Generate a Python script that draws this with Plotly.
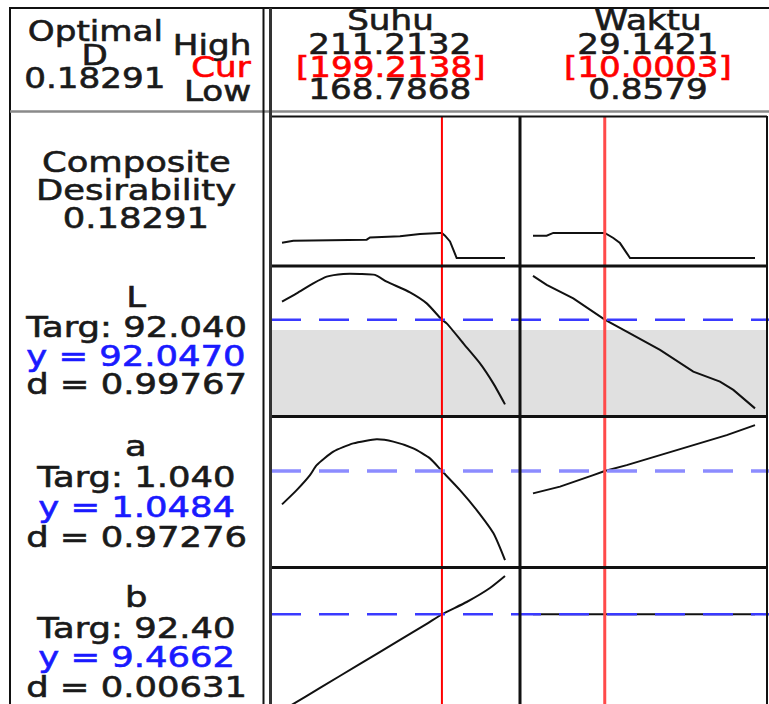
import plotly.graph_objects as go

W, H = 769, 704

# ---------------- data ----------------
factors = ["Suhu", "Waktu"]
suhu_high, suhu_cur, suhu_low = 211.2132, 199.2138, 168.7868
waktu_high, waktu_cur, waktu_low = 29.1421, 10.0003, 0.8579
suhu_labels = ["211.2132", "[199.2138]", "168.7868"]
waktu_labels = ["29.1421", "[10.0003]", "0.8579"]

optimal_D = "0.18291"

# Composite desirability
comp_suhu_x = [168.79, 170.94, 184.90, 185.53, 191.24, 195.04, 198.85, 199.2138, 199.80, 200.75, 201.38, 202.02, 211.2132]
comp_suhu_y = [0.112, 0.126, 0.134, 0.150, 0.158, 0.175, 0.182, 0.18291, 0.163, 0.121, 0.061, 0.0, 0.0]
comp_waktu_x = [0.8579, 2.60, 3.44, 10.0003, 11.09, 11.94, 12.80, 13.22, 29.1421]
comp_waktu_y = [0.163, 0.163, 0.18291, 0.18291, 0.146, 0.109, 0.036, 0.0, 0.0]

# Response L
L_suhu_x = [168.79, 171.58, 174.74, 177.29, 180.45, 183.63, 186.48, 188.71, 193.14, 196.32, 199.2138, 200.12, 203.28, 206.46, 208.99, 211.2132]
L_suhu_y = [92.77, 93.10, 93.50, 93.77, 93.88, 93.88, 93.84, 93.57, 93.14, 92.70, 92.047, 91.90, 91.10, 90.30, 89.50, 88.66]
L_waktu_x = [0.8579, 2.60, 5.99, 10.0003, 12.80, 17.04, 21.28, 24.68, 26.38, 29.1421]
L_waktu_y = [93.80, 93.44, 92.90, 92.047, 91.57, 90.84, 89.97, 89.57, 89.24, 88.50]
L_current = 92.047
L_shade_top = 91.64

# Response a
a_suhu_x = [168.79, 171.58, 174.11, 175.39, 178.55, 182.35, 186.80, 189.96, 193.77, 196.94, 199.2138, 202.65, 205.83, 209.02, 211.2132]
a_suhu_y = [0.915, 0.972, 1.032, 1.072, 1.126, 1.159, 1.175, 1.166, 1.139, 1.099, 1.0484, 0.972, 0.892, 0.799, 0.692]
a_waktu_x = [0.8579, 4.30, 8.54, 10.0003, 12.80, 17.04, 21.28, 25.54, 29.1421]
a_waktu_y = [0.959, 0.986, 1.032, 1.0484, 1.072, 1.112, 1.152, 1.192, 1.232]
a_current = 1.0484

# Response b
b_suhu_x = [168.79, 170.63, 176.02, 183.63, 191.24, 196.32, 199.2138, 203.92, 208.35, 211.2132]
b_suhu_y = [4.666, 4.936, 5.786, 6.986, 8.186, 8.986, 9.4662, 10.081, 10.781, 11.381]
b_waktu_x = [0.8579, 10.0003, 29.1421]
b_waktu_y = [9.4662, 9.4662, 9.4662]
b_current = 9.4662

left_blocks = [
    ["Composite", "Desirability", "0.18291"],
    ["L", "Targ: 92.040", "y = 92.0470", "d = 0.99767"],
    ["a", "Targ: 1.040", "y = 1.0484", "d = 0.97276"],
    ["b", "Targ: 92.40", "y = 9.4662", "d = 0.00631"],
]

# ---------------- layout helpers ----------------
def px(x):
    return x / W

def py(y):
    return 1 - y / H

FONT = "DejaVu Sans"
FS = 29
FS_HEAD = 28
TXT = "#1a1a1a"
TEXT_STRETCH = 1.22

fig = go.Figure()

line_style = dict(color="#111111", width=2)
# composite row -> y, L -> y2, a -> y3, b -> y4 ; Suhu -> x, Waktu -> x2
fig.add_trace(go.Scatter(x=comp_suhu_x, y=comp_suhu_y, xaxis="x", yaxis="y", mode="lines", line=line_style))
fig.add_trace(go.Scatter(x=comp_waktu_x, y=comp_waktu_y, xaxis="x2", yaxis="y", mode="lines", line=line_style))
fig.add_trace(go.Scatter(x=L_suhu_x, y=L_suhu_y, xaxis="x", yaxis="y2", mode="lines", line=dict(line_style, shape="spline", smoothing=0.6)))
fig.add_trace(go.Scatter(x=L_waktu_x, y=L_waktu_y, xaxis="x2", yaxis="y2", mode="lines", line=line_style))
fig.add_trace(go.Scatter(x=a_suhu_x, y=a_suhu_y, xaxis="x", yaxis="y3", mode="lines", line=dict(line_style, shape="spline", smoothing=0.6)))
fig.add_trace(go.Scatter(x=a_waktu_x, y=a_waktu_y, xaxis="x2", yaxis="y3", mode="lines", line=line_style))
fig.add_trace(go.Scatter(x=b_suhu_x, y=b_suhu_y, xaxis="x", yaxis="y4", mode="lines", line=dict(line_style, shape="spline", smoothing=0.6)))
fig.add_trace(go.Scatter(x=b_waktu_x, y=b_waktu_y, xaxis="x2", yaxis="y4", mode="lines", line=line_style))

def xr(lo, hi, pl, pr):
    s = hi - lo
    return [lo - pl * s, hi + pr * s]

hidden = dict(visible=False, fixedrange=True)
L_range = [88.235, 94.155]
fig.update_layout(
    width=W, height=H,
    margin=dict(l=0, r=0, t=0, b=0),
    paper_bgcolor="white", plot_bgcolor="white",
    showlegend=False,
    xaxis=dict(hidden, domain=[px(272), px(519)], range=xr(suhu_low, suhu_high, 0.0448, 0.0628), anchor="y"),
    xaxis2=dict(hidden, domain=[px(521), px(767)], range=xr(waktu_low, waktu_high, 0.054, 0.054), anchor="y"),
    yaxis=dict(hidden, domain=[py(265), py(116)], range=[-0.051, 1.036], anchor="x"),
    yaxis2=dict(hidden, domain=[py(415), py(267)], range=L_range, anchor="x"),
    yaxis3=dict(hidden, domain=[py(566), py(418)], range=[0.6684, 1.2604], anchor="x"),
    yaxis4=dict(hidden, domain=[0, py(569)], range=[4.981, 11.731], anchor="x"),
)

shapes = []
# gray shading in L row
shapes.append(dict(type="rect", xref="paper", yref="y2", x0=px(271), x1=px(767), y0=L_range[0], y1=L_shade_top,
                   fillcolor="#e0e0e0", line=dict(width=0), layer="below"))
# current-response dashed lines
for yr, val, col, wd in [("y2", L_current, "#3a3aff", 2.5), ("y3", a_current, "#8c8cff", 3.5), ("y4", b_current, "#3a3aff", 2.5)]:
    shapes.append(dict(type="line", xref="paper", yref=yr, x0=px(271), x1=px(769), y0=val, y1=val,
                       line=dict(color=col, width=wd, dash="30px,18px")))
# current factor settings (red)
shapes.append(dict(type="line", xref="x", yref="paper", x0=suhu_cur, x1=suhu_cur, y0=0, y1=py(116),
                   line=dict(color="#ff0000", width=2)))
shapes.append(dict(type="line", xref="x2", yref="paper", x0=waktu_cur, x1=waktu_cur, y0=0, y1=py(116),
                   line=dict(color="#ff4a4a", width=3)))

def hline(y, x0, x1, color="#111111", width=2):
    shapes.append(dict(type="line", xref="paper", yref="paper", x0=px(x0), x1=px(x1), y0=py(y), y1=py(y),
                       line=dict(color=color, width=width)))

def vline(x, y0, y1, color="#111111", width=2):
    shapes.append(dict(type="line", xref="paper", yref="paper", x0=px(x), x1=px(x), y0=py(y0), y1=py(y1),
                       line=dict(color=color, width=width)))

# frame
hline(8, 9, 769, width=2)
vline(10, 8, 704, width=2)
hline(111.5, 10, 769, color="#8a8a8a", width=2.5)
hline(116.5, 270, 767, width=2)
hline(266, 270, 767, width=3)
hline(416.5, 270, 767, width=3)
hline(567.5, 270, 767, width=3)
vline(263.5, 8, 704, width=2)
vline(270.5, 8, 704, color="#333333", width=3)
vline(520, 116, 704, width=3)
vline(767, 116, 704, width=2)
fig.update_layout(shapes=shapes)

ann = []
def text(t, x, y, color=TXT, align="center", size=FS):
    ann.append(dict(text=t, x=px(x), y=py(y), xref="paper", yref="paper", showarrow=False,
                    xanchor=align, yanchor="middle", align=align,
                    font=dict(family=FONT, size=size, color=color)))

# header
text("Optimal", 95, 32, size=FS_HEAD)
text("D", 95, 55, size=FS_HEAD)
text(optimal_D, 95, 79, size=FS_HEAD)
text("High", 253, 46, align="right", size=FS_HEAD)
text("Cur", 253, 68, color="#ff0000", align="right", size=FS_HEAD)
text("Low", 253, 91, align="right", size=FS_HEAD)
for cx, name, labs in [(390, factors[0], suhu_labels), (648, factors[1], waktu_labels)]:
    text(name, cx, 20, size=FS_HEAD)
    text(labs[0], cx, 44, size=FS_HEAD)
    text(labs[1], cx, 67, color="#ff0000", size=FS_HEAD)
    text(labs[2], cx, 90, size=FS_HEAD)

# left column
block_y = [[162, 190, 218], [297, 327, 356, 384], [446, 477, 507, 537], [597, 628, 657, 687]]
for lines, ys in zip(left_blocks, block_y):
    for t, yy in zip(lines, ys):
        col = "#1a1aff" if t.startswith("y =") else TXT
        text(t, 136, yy, color=col)
fig.update_layout(annotations=ann)

post = """
document.documentElement.style.margin = '0';
document.documentElement.style.overflow = 'hidden';
document.body.style.margin = '0';
document.body.style.padding = '0';
document.body.style.overflow = 'hidden';
var gd = document.getElementById('{plot_id}');
gd.querySelectorAll('text.annotation-text').forEach(function(t){
  var b = t.getBBox();
  var a = t.getAttribute('text-anchor');
  var ox = (a === 'end') ? b.x + b.width : ((a === 'start') ? b.x : b.x + b.width / 2);
  t.setAttribute('transform', 'translate(' + ox + ',0) scale(%s,1) translate(' + (-ox) + ',0)');
  var f = window.getComputedStyle(t).fill;
  t.style.stroke = f;
  t.style.strokeWidth = '0.6px';
});
""" % TEXT_STRETCH

fig.write_html("out.html", config={"displayModeBar": False, "staticPlot": True}, post_script=post)
